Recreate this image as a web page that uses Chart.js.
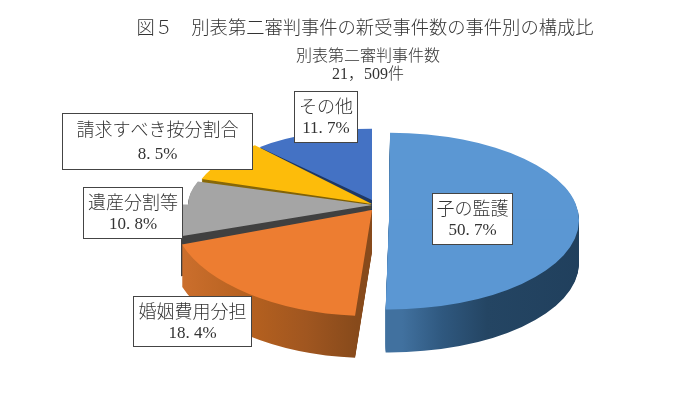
<!DOCTYPE html>
<html><head><meta charset="utf-8">
<style>html,body{margin:0;padding:0;background:#fff}canvas{display:block}</style>
<script src="https://cdn.jsdelivr.net/npm/chart.js@4"></script></head>
<body><div style="width:683px;height:395px"><canvas id="c" width="683" height="395"></canvas></div>
<script>
const categories = ['子の監護','婚姻費用分担','遺産分割等','請求すべき按分割合','その他'];
const shares = [50.7,18.4,10.8,8.5,11.7];
const valueLabels = ['50. 7%','18. 4%','10. 8%','8. 5%','11. 7%'];
const titleText = '図５　別表第二審判事件の新受事件数の事件別の構成比';
const subtitleLines = ['別表第二審判事件数','21，509件'];

const colors = ['#5B97D3','#ED7D31','#A5A5A5','#FDBC0A','#4472C4'];
const explode = [68,0,0,0,0];
// per-slice projection: radius, centre y, squash above/below centre, x stretch below centre, side depth, angle nudge, left clip
const proj = [
 {r:190,cy:220,up:.46,dn:.47,sx:1,depth:43,rot:-2,minX:0},
 {r:190,cy:210,up:.42,dn:.558,sx:1.058,depth:42,rot:1,minX:0},
 {r:184,cy:205,up:.395,dn:.5,sx:1.11,depth:40,rot:0,minX:181},
 {r:180,cy:204,up:.43,dn:.5,sx:1,depth:5,rot:0,minX:0},
 {r:168,cy:200,up:.424,dn:.5,sx:1,depth:33,rot:-1.5,minX:0}
];
const sideStops = [
 [[385,'#41719f'],[425,'#2f587f'],[470,'#244563'],[578,'#203f5c']],
 [[190,'#cc6f2d'],[260,'#b4601f'],[310,'#a05620'],[358,'#874a1b']],
 [[170,'#404040'],[380,'#404040']],
 [[190,'#8a6a08'],[380,'#7a5c06']],
 [[250,'#1f3864'],[380,'#1f3864']]
];
const boxes = [
 {x:432,y:193,w:81,h:52},
 {x:133,y:296,w:119,h:51},
 {x:83,y:187,w:100,h:52},
 {x:62,y:113,w:191,h:57},
 {x:294,y:91,w:64,h:52}
];
const FONT = '"Noto Sans CJK JP",sans-serif';
const DIGITS = '"Liberation Serif","Noto Sans CJK JP",serif';
const PIVOT_X = 372;

function face(ctx,el,p,shift){
  const yc=p.cy+shift;
  [[0,yc+.4,p.up,1],[yc-.4,395-yc+.8,p.dn,p.sx]].forEach(([y,h,k,sx])=>{
    ctx.save();
    ctx.beginPath();ctx.rect(p.minX,y,683-p.minX,h);ctx.clip();
    ctx.translate(PIVOT_X,yc);ctx.scale(sx,k);ctx.translate(-PIVOT_X,-el.y);
    el.draw(ctx);
    ctx.restore();
  });
}
const pie3d={
  id:'pie3d',
  beforeDatasetDraw(chart,args){
    const ctx=chart.ctx, els=chart.getDatasetMeta(0).data;
    [4,3,2,1,0].forEach(i=>{
      const el=els[i],p=proj[i],base=el.options;
      const nudge=p.rot*Math.PI/180;
      const s=el.startAngle,e=el.endAngle,o=el.outerRadius;
      el.startAngle=s+nudge;el.endAngle=e+nudge;
      el.outerRadius=p.r-explode[i]/4;
      const st=sideStops[i],a=st[0][0],b=st[st.length-1][0];
      const g=ctx.createLinearGradient(a,0,b,0);
      st.forEach(([x,c])=>g.addColorStop((x-a)/(b-a),c));
      el.options=Object.assign({},base,{backgroundColor:g,borderWidth:0});
      for(let d=p.depth;d>=1;d--) face(ctx,el,p,d);
      el.options=base;
      face(ctx,el,p,0);
      el.startAngle=s;el.endAngle=e;el.outerRadius=o;
    });
    return false;
  },
  afterDraw(chart){
    const ctx=chart.ctx;
    ctx.save();
    ctx.textAlign='center';ctx.textBaseline='middle';
    ctx.fillStyle='#333';
    ctx.font='300 18.3px '+FONT;
    ctx.fillText(titleText,365,27);
    ctx.font='300 16px '+FONT;
    ctx.fillText(subtitleLines[0],368,55);
    ctx.font='300 16px '+DIGITS;
    ctx.fillText(subtitleLines[1],368,75);
    boxes.forEach((b,i)=>{
      ctx.fillStyle='#fff';ctx.strokeStyle='#444';ctx.lineWidth=1;
      ctx.fillRect(b.x,b.y,b.w,b.h);
      ctx.strokeRect(b.x+.5,b.y+.5,b.w-1,b.h-1);
      ctx.fillStyle='#333';
      ctx.font='300 18px '+FONT;
      ctx.fillText(categories[i],b.x+b.w/2,b.y+b.h*.29);
      ctx.font='17px '+DIGITS;
      ctx.fillText(valueLabels[i],b.x+b.w/2,b.y+b.h*.73);
    });
    ctx.restore();
  }
};
new Chart(document.getElementById('c'),{
  type:'pie',
  data:{labels:categories,datasets:[{data:shares,backgroundColor:colors,offset:explode,borderWidth:0,hoverOffset:0}]},
  options:{
    responsive:false,animation:false,events:[],
    rotation:1.5,radius:190,
    layout:{padding:{left:61}},
    plugins:{legend:{display:false},title:{display:false},tooltip:{enabled:false}}
  },
  plugins:[pie3d]
});
</script></body></html>
